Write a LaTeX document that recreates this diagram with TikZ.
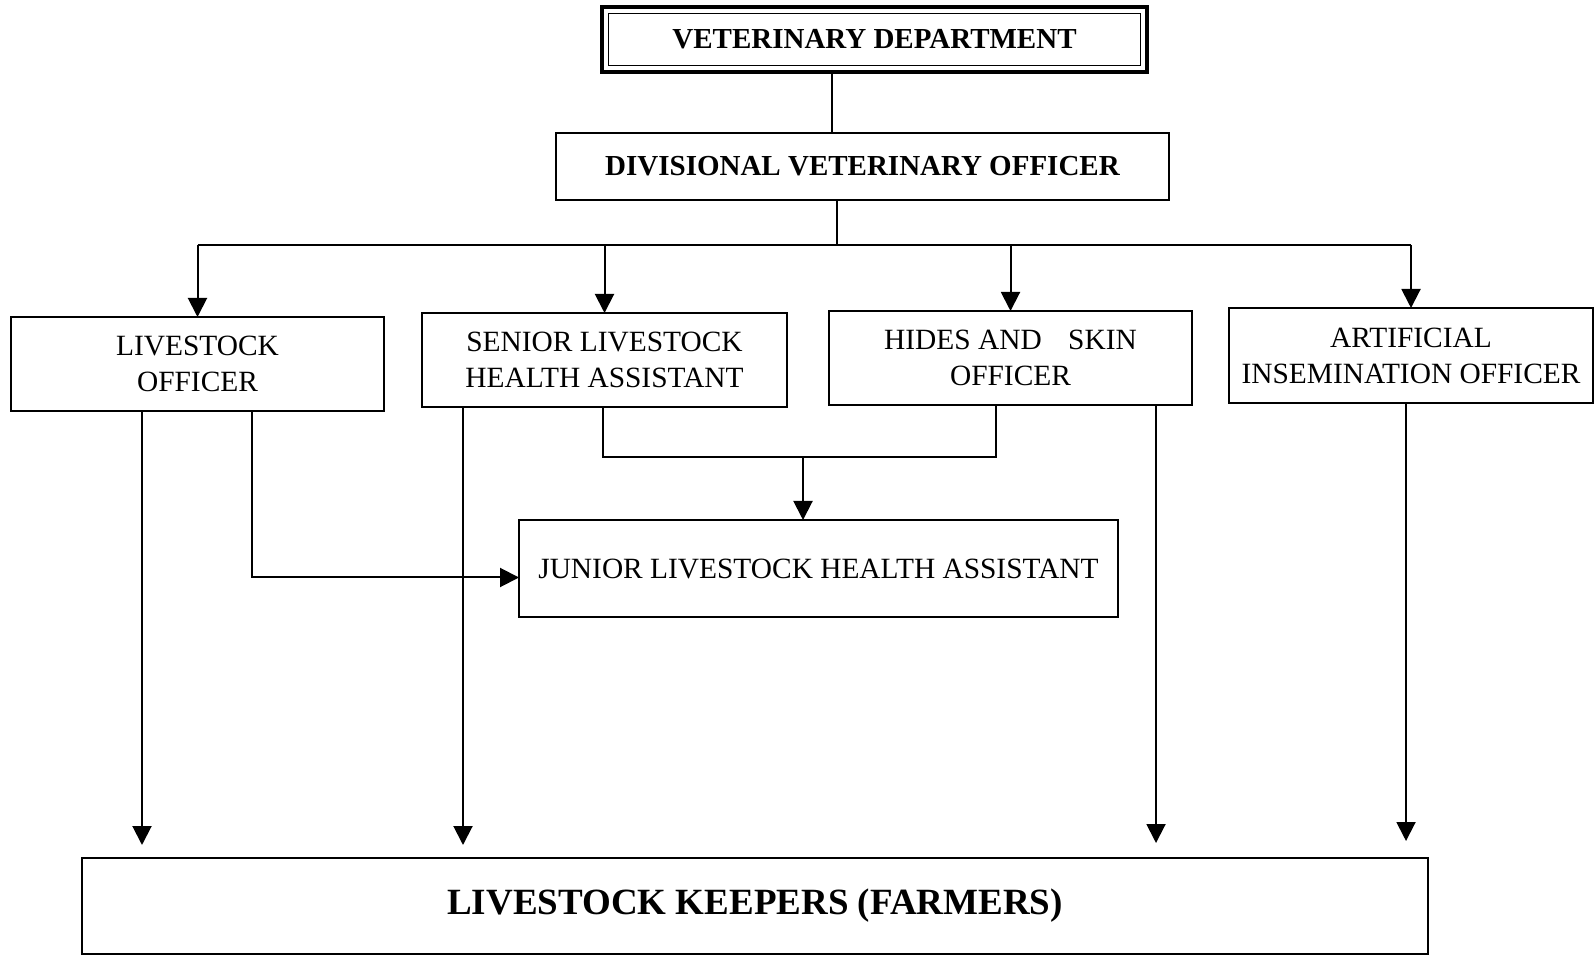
\documentclass[tikz,border=0pt]{standalone}
\usepackage{fontspec}
\setmainfont{Liberation Serif}
\usetikzlibrary{arrows.meta,calc}
\begin{document}
\begin{tikzpicture}[x=0.5pt,y=-0.5pt,
  every node/.style={inner sep=0pt,outer sep=0pt},
  box/.style={draw,line width=1.1pt,align=center,font=\fontsize{14.7}{18}\selectfont},
  boldbox/.style={draw,line width=1.1pt,align=center,font=\fontsize{14.5}{17}\selectfont\bfseries},
  link/.style={line width=1pt},
  arr/.style={line width=1pt,-{Triangle[length=9.5pt,width=9.5pt]}}]
\useasboundingbox (0,0) rectangle (1594,961);

% top: department (double frame)
\node[boldbox,line width=1.6pt,minimum width=272.5pt,minimum height=32.5pt] (vd) at (874.5,39.5) {};
\node[draw,line width=0.8pt,minimum width=266pt,minimum height=26pt] (vdin) at (vd.center) {};
\node[font=\fontsize{14.5}{17}\selectfont\bfseries] (vdt) at (vd.center) {VETERINARY DEPARTMENT};

\node[boldbox,minimum width=306.5pt,minimum height=33.5pt] (dvo) at (862.5,166.5) {DIVISIONAL VETERINARY OFFICER};

% officers
\node[box,minimum width=186.5pt,minimum height=47pt] (lo) at (197.5,364) {LIVESTOCK\\OFFICER};
\node[box,minimum width=182.5pt,minimum height=47pt] (slha) at (604.5,360) {SENIOR LIVESTOCK\\HEALTH ASSISTANT};
\node[box,minimum width=181.5pt,minimum height=47pt] (hso) at (1010.5,358) {HIDES AND\hspace{0.9em}SKIN\\OFFICER};
\node[box,minimum width=182pt,minimum height=47.5pt] (aio) at (1411,355.5) {ARTIFICIAL\\INSEMINATION OFFICER};

\node[box,minimum width=299.5pt,minimum height=48.5pt] (jlha) at (818.5,568.5) {JUNIOR LIVESTOCK HEALTH ASSISTANT};

\node[draw,line width=1.1pt,minimum width=673pt,minimum height=48pt,
      font=\fontsize{18.5}{22}\selectfont\bfseries] (lk) at (755,906) {LIVESTOCK KEEPERS (FARMERS)};

% column positions
\coordinate (c0) at (832,0);
\coordinate (bus) at (837,245);
\coordinate (cA) at (142,845);
\coordinate (cB) at (463,845);
\coordinate (cC) at (1156,843);
\coordinate (cD) at (1406,841);
\coordinate (cE) at (252,0);
\coordinate (mid) at (603,457);
\coordinate (midR) at (996,457);
\coordinate (cJ) at (803,0);

% department to divisional officer
\draw[link] (vd.south -| c0) -- (dvo.north -| c0);
\draw[link] (dvo.south -| bus) -- (bus);
\draw[link] (bus -| lo.north) -- (bus -| aio.north);
\draw[arr] (bus -| lo.north) -- (lo.north);
\draw[arr] (bus -| slha.north) -- (slha.north);
\draw[arr] (bus -| hso.north) -- (hso.north);
\draw[arr] (bus -| aio.north) -- (aio.north);

% officers to farmers
\draw[arr] (lo.south -| cA) -- (cA);
\draw[arr] (slha.south -| cB) -- (cB);
\draw[arr] (hso.south -| cC) -- (cC);
\draw[arr] (aio.south -| cD) -- (cD);

% officers to junior assistant
\draw[arr] (lo.south -| cE) |- ([yshift=-4.5pt]jlha.west);
\draw[link] (slha.south -| mid) -- (mid) -- (midR) -- (hso.south -| midR);
\draw[arr] (mid -| cJ) -- (jlha.north -| cJ);
\end{tikzpicture}
\end{document}
